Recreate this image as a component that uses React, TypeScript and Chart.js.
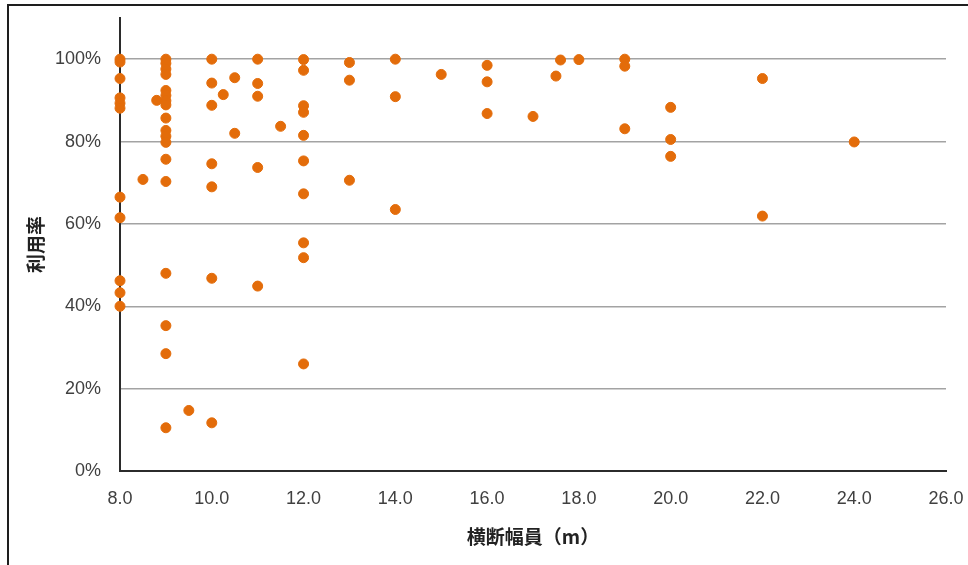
import React, { useEffect, useRef } from "react";
import { Chart, registerables } from "chart.js";

Chart.register(...registerables);

// 横断幅員 (m)
const widthM: number[] = [
  8, 8, 8, 8, 8, 8, 8, 8, 8, 8, 8,
  8.5, 8.8,
  9, 9, 9, 9, 9, 9, 9, 9, 9, 9, 9, 9, 9, 9, 9, 9, 9, 9,
  9.5,
  10, 10, 10, 10, 10, 10, 10,
  10.25, 10.5, 10.5,
  11, 11, 11, 11, 11,
  11.5,
  12, 12, 12, 12, 12, 12, 12, 12, 12, 12,
  13, 13, 13,
  14, 14, 14,
  15,
  16, 16, 16,
  17, 17.5, 17.6, 18,
  19, 19, 19,
  20, 20, 20,
  22, 22,
  24,
];

// 利用率 (%)
const usageRate: number[] = [
  100, 99.3, 95.3, 90.6, 89.3, 88.1, 66.5, 61.5, 46.2, 43.3, 40.0,
  70.8, 90.0,
  100, 99.0, 97.6, 96.3, 92.4, 91.2, 89.9, 88.9, 85.7, 82.7, 81.3, 79.8, 75.7, 70.3, 48.0, 35.3, 28.5, 10.5,
  14.7,
  100, 94.2, 88.8, 74.6, 69.0, 46.8, 11.7,
  91.4, 95.5, 82.0,
  100, 94.1, 91.0, 73.7, 44.9,
  83.7,
  99.9, 97.3, 88.7, 87.1, 81.5, 75.3, 67.3, 55.4, 51.8, 26.0,
  99.2, 94.9, 70.6,
  100, 90.9, 63.5,
  96.3,
  98.5, 94.5, 86.8,
  86.1, 95.9, 99.8, 99.9,
  100, 98.3, 83.1,
  88.3, 80.5, 76.4,
  95.3, 61.9,
  79.9,
];

const xTitle = "横断幅員（m）";
const yTitle = "利用率";

function zeroPad(s: any) {
  s.paddingTop = 0;
  s.paddingBottom = 0;
  s.paddingLeft = 0;
  s.paddingRight = 0;
}

export default function App() {
  const ref = useRef<HTMLCanvasElement | null>(null);

  useEffect(() => {
    if (!ref.current) return;
    const points = widthM.map((x, i) => ({ x, y: usageRate[i] }));
    const chart = new Chart(ref.current, {
      type: "scatter",
      data: {
        datasets: [
          {
            data: points,
            backgroundColor: "#E36C0A",
            borderColor: "#E36C0A",
            borderWidth: 1,
            pointRadius: 5,
            clip: false,
          } as any,
        ],
      },
      options: {
        animation: false,
        responsive: false,
        devicePixelRatio: 1,
        layout: { padding: { top: 18, right: 22, left: 0, bottom: 0 } },
        plugins: { legend: { display: false }, tooltip: { enabled: false } },
        scales: {
          x: {
            type: "linear",
            min: 8,
            max: 26,
            afterFit: (s: any) => {
              s.height = 94;
              zeroPad(s);
            },
            ticks: {
              stepSize: 2,
              padding: 17,
              color: "#404040",
              font: { family: "'Liberation Sans', Arial, sans-serif", size: 18 },
              callback: (v: any) => Number(v).toFixed(1),
              maxRotation: 0,
            },
            grid: { display: true, color: "rgba(0,0,0,0)", drawTicks: false },
            border: { display: true, color: "#2b2b2b", width: 2 },
            title: {
              display: true,
              text: xTitle,
              color: "#222",
              font: { family: "'Noto Sans CJK JP', sans-serif", size: 19, weight: "bold" },
              padding: { top: 0, bottom: 17 },
            },
          },
          y: {
            type: "linear",
            min: 0,
            max: 110,
            afterFit: (s: any) => {
              s.width = 120;
              zeroPad(s);
            },
            afterBuildTicks: (s: any) => {
              s.ticks = s.ticks.filter((t: any) => t.value <= 100);
            },
            ticks: {
              stepSize: 20,
              padding: 19,
              color: "#404040",
              font: { family: "'Liberation Sans', Arial, sans-serif", size: 18 },
              callback: (v: any) => `${v}%`,
            },
            grid: { color: "#a3a3a3", lineWidth: 1.5, drawTicks: false },
            border: { display: true, color: "#2b2b2b", width: 2 },
            title: {
              display: true,
              text: yTitle,
              color: "#222",
              font: { family: "'Noto Sans CJK JP', sans-serif", size: 19, weight: "bold" },
              padding: { top: 24, bottom: 0 },
            },
          },
        },
      },
    });
    return () => chart.destroy();
  }, []);

  return (
    <div
      style={{
        position: "fixed",
        left: 0,
        top: 0,
        width: 968,
        height: 565,
        overflow: "hidden",
        background: "#fff",
      }}
    >
      <div
        style={{
          position: "absolute",
          left: 7,
          top: 4,
          width: 1000,
          height: 600,
          borderTop: "2px solid #1e1e1e",
          borderLeft: "2px solid #1e1e1e",
        }}
      />
      <canvas
        ref={ref}
        width={968}
        height={565}
        style={{ position: "absolute", left: 0, top: 0, width: 968, height: 565 }}
      />
    </div>
  );
}
